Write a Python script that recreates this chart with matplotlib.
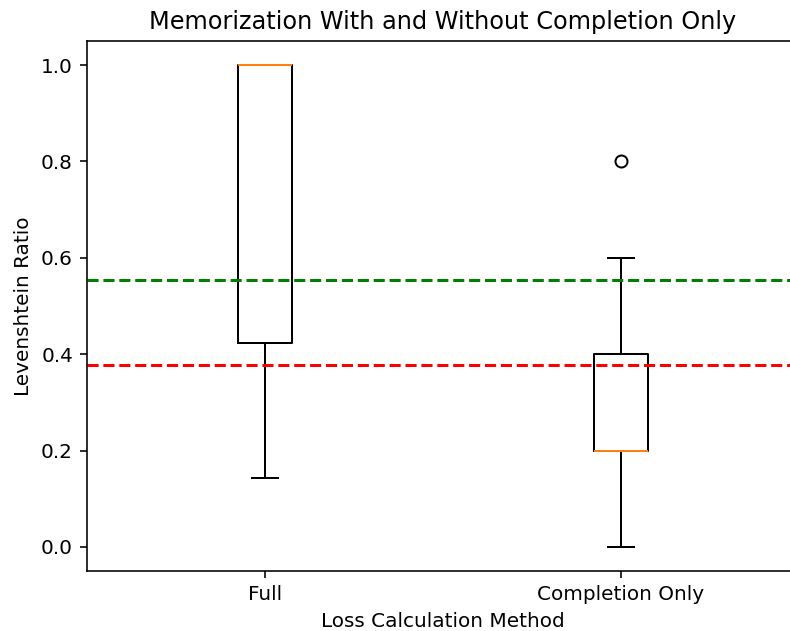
import matplotlib
matplotlib.use("Agg")
import matplotlib.pyplot as plt

labels = ["Full", "Completion Only"]
whislo = [0.143, 0.0]
q1 = [0.423, 0.2]
med = [1.0, 0.2]
q3 = [1.0, 0.4]
whishi = [1.0, 0.6]
fliers = [[], [0.8]]
mean_full = 0.553
mean_completion = 0.377

stats = []
for i in range(len(labels)):
    stats.append({"label": labels[i], "whislo": whislo[i], "q1": q1[i],
                  "med": med[i], "q3": q3[i], "whishi": whishi[i],
                  "fliers": fliers[i]})

# the original image is cropped on the right, so the right spine is off-canvas
fig = plt.figure(figsize=(790 / 144, 631 / 144), dpi=144)
ax = fig.add_axes([87 / 790, 60 / 631, 740 / 790, 530 / 631])
ax.bxp(stats, widths=0.15)
ax.axhline(mean_full, color="g", linestyle="--")
ax.axhline(mean_completion, color="r", linestyle="--")
ax.set_xlim(0.5, 0.5 + 740 / 356)
ax.set_title("Memorization With and Without Completion Only", x=356 / 740)
ax.set_xlabel("Loss Calculation Method", x=356 / 740)
ax.set_ylabel("Levenshtein Ratio")
fig.savefig("out.png", dpi=144)
